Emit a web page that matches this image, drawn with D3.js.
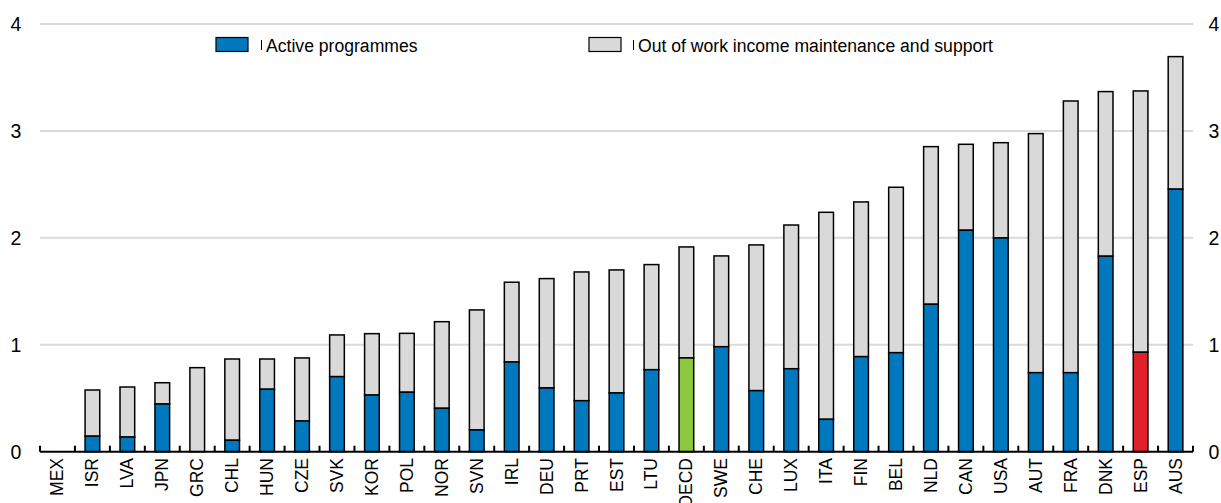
<!DOCTYPE html>
<html><head><meta charset="utf-8">
<script src="https://cdn.jsdelivr.net/npm/d3@7"></script>
<style>body{margin:0;background:#fff;} text{font-family:"Liberation Sans",Arial,sans-serif;}</style>
</head><body>
<svg id="c" width="1221" height="503"></svg>
<script>
const categories = ["MEX","ISR","LVA","JPN","GRC","CHL","HUN","CZE","SVK","KOR","POL","NOR","SVN","IRL","DEU","PRT","EST","LTU","OECD","SWE","CHE","LUX","ITA","FIN","BEL","NLD","CAN","USA","AUT","FRA","DNK","ESP","AUS"];
const activeValues = [0,0.145,0.137,0.446,0,0.107,0.584,0.287,0.702,0.530,0.556,0.406,0.203,0.839,0.596,0.477,0.549,0.767,0.877,0.982,0.571,0.776,0.303,0.889,0.926,1.379,2.071,1.999,0.739,0.739,1.828,0.930,2.455];
const totalValues = [0,0.577,0.605,0.645,0.786,0.867,0.867,0.877,1.092,1.104,1.107,1.216,1.326,1.585,1.619,1.681,1.700,1.750,1.915,1.831,1.934,2.120,2.239,2.336,2.473,2.853,2.875,2.890,2.975,3.280,3.368,3.374,3.695];
const outOfWorkValues = totalValues.map((t,i)=>+(t-activeValues[i]).toFixed(3));
const seriesNames = ["Active programmes","Out of work income maintenance and support"];
const yTicks = [0,1,2,3,4];

const svg = d3.select("#c");
const x = d3.scaleBand().domain(categories).range([40,1193]).paddingInner(0).paddingOuter(0);
const y = d3.scaleLinear().domain([0,4]).range([451.7,24]);
const bw = x.bandwidth()*0.42;
const activeColor = c => c==="OECD" ? "#8dc63f" : (c==="ESP" ? "#e0202a" : "#0078be");

// grid
svg.append("g").selectAll("line").data(yTicks.filter(d=>d>0)).join("line")
  .attr("x1",40).attr("x2",1193).attr("y1",d=>y(d)).attr("y2",d=>y(d))
  .attr("stroke","#d9d9d9").attr("stroke-width",2);

// y labels
svg.append("g").selectAll("text").data(yTicks).join("text")
  .attr("x",16).attr("y",d=>y(d)+7).attr("text-anchor","middle").attr("font-size",19.5).attr("fill","#000").text(d=>d);
svg.append("g").selectAll("text").data(yTicks).join("text")
  .attr("x",1214).attr("y",d=>y(d)+7).attr("text-anchor","middle").attr("font-size",19.5).attr("fill","#000").text(d=>d);

// bars
const g = svg.append("g");
categories.forEach((c,i)=>{
  const cx = x(c)+x.bandwidth()/2;
  if (outOfWorkValues[i] > 0) {
    g.append("rect").attr("x",cx-bw/2).attr("width",bw)
      .attr("y",y(totalValues[i])).attr("height",y(activeValues[i])-y(totalValues[i]))
      .attr("fill","#d9d9d9").attr("stroke","#000").attr("stroke-width",1.5);
  }
  if (activeValues[i] > 0) {
    g.append("rect").attr("x",cx-bw/2).attr("width",bw)
      .attr("y",y(activeValues[i])).attr("height",y(0)-y(activeValues[i]))
      .attr("fill",activeColor(c)).attr("stroke","#000").attr("stroke-width",1.5);
  }
});

// x axis
const ax = svg.append("g");
ax.append("line").attr("x1",40).attr("x2",1193).attr("y1",y(0)).attr("y2",y(0)).attr("stroke","#000").attr("stroke-width",2);
const bounds = categories.map(c=>x(c)).concat([x.range()[1]]);
ax.selectAll("line.t").data(bounds).join("line").attr("class","t")
  .attr("x1",d=>d).attr("x2",d=>d).attr("y1",y(0)).attr("y2",y(0)-6).attr("stroke","#000").attr("stroke-width",2);
ax.selectAll("text").data(categories).join("text")
  .attr("transform",d=>`translate(${x(d)+x.bandwidth()/2+6},458) rotate(-90)`)
  .attr("text-anchor","end").attr("font-size",17.5).attr("fill","#000").text(d=>d);

// legend
const leg = [{name:seriesNames[0],fill:"#0078be",bx:216,tx:266},{name:seriesNames[1],fill:"#d9d9d9",bx:589,tx:638}];
leg.forEach(l=>{
  svg.append("rect").attr("x",l.bx).attr("y",37.5).attr("width",32).attr("height",14).attr("fill",l.fill).attr("stroke","#000").attr("stroke-width",1.2);
  svg.append("line").attr("x1",l.tx-4.5).attr("x2",l.tx-4.5).attr("y1",40).attr("y2",50).attr("stroke","#000").attr("stroke-width",1);
  svg.append("text").attr("x",l.tx).attr("y",51.5).attr("font-size",17.6).attr("fill","#000").text(l.name);
});
</script>
</body></html>
